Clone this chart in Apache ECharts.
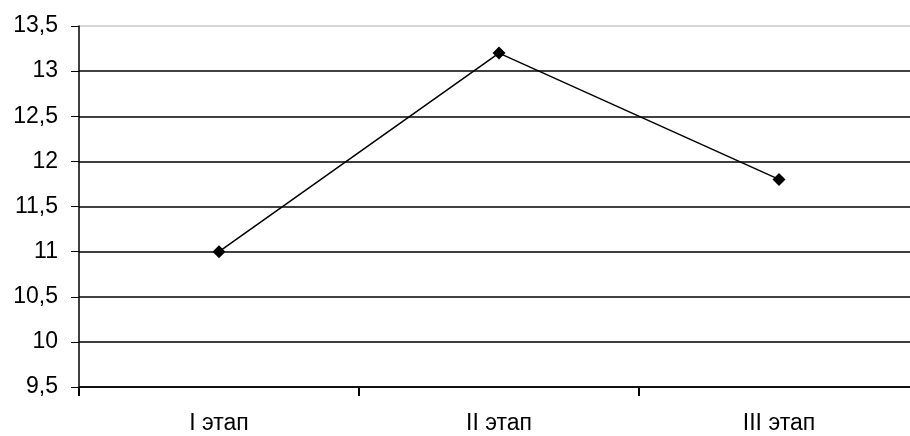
<!DOCTYPE html>
<html><head><meta charset="utf-8">
<script src="https://cdn.jsdelivr.net/npm/echarts@6/dist/echarts.min.js"></script>
<style>html,body{margin:0;padding:0;background:#fff;overflow:hidden}#c{width:910px;height:436px}</style>
</head><body><div id="c"></div>
<script>
const categories = ['I этап', 'II этап', 'III этап'];
const values = [11, 13.2, 11.8];
const yMin = 9.5, yMax = 13.5, yStep = 0.5;

const chart = echarts.init(document.getElementById('c'));
const font = 'Liberation Sans, Arial, sans-serif';
const splitColors = ['#000','#000','#000','#000','#000','#000','#000','#000','#c8c8c8'];
chart.setOption({
  animation: false,
  grid: {left: 79, width: 840, top: 26, bottom: 49, containLabel: false, outerBoundsMode: 'none'},
  xAxis: {
    type: 'category', data: categories, boundaryGap: true,
    axisLine: {show: true, lineStyle: {color: '#000', width: 1.5}},
    axisTick: {show: true, length: 9, lineStyle: {color: '#000', width: 2}},
    axisLabel: {color: '#000', fontSize: 23, fontFamily: font, margin: 25}
  },
  yAxis: {
    type: 'value', min: yMin, max: yMax, interval: yStep,
    axisLine: {show: true, lineStyle: {color: '#000', width: 1.5}},
    axisTick: {show: true, length: 8, lineStyle: {color: '#000', width: 1}},
    axisLabel: {color: '#000', fontSize: 23, fontFamily: font, margin: 21,
      formatter: v => String(v).replace('.', ',')},
    splitLine: {show: true, lineStyle: {color: splitColors, width: 1.5}}
  },
  series: [{
    type: 'line', data: values,
    symbol: 'diamond', symbolSize: 13,
    lineStyle: {color: '#000', width: 1.5},
    itemStyle: {color: '#000'}
  }]
});
</script></body></html>
